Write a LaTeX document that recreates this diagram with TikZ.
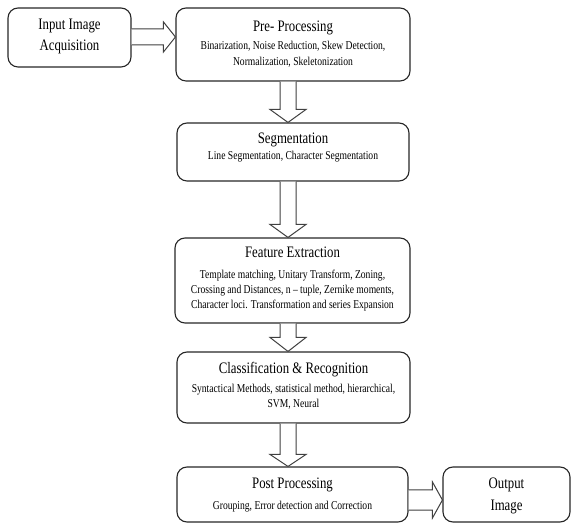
\documentclass[tikz,border=0pt]{standalone}
\usepackage{fontspec}
\setmainfont{Liberation Serif}[FakeStretch=0.8]
\usetikzlibrary{calc}
\tikzset{
  box/.style={draw=black!85, line width=1.1pt, rounded corners=10pt, inner sep=0pt},
  ttl/.style={font=\fontsize{16}{18}\selectfont, inner sep=0pt},
  bdy/.style={font=\fontsize{12}{15}\selectfont, inner sep=0pt, anchor=base},
  blk/.style={draw=black!75, line width=1pt, fill=white, line join=miter},
}
\begin{document}
\begin{tikzpicture}[x=1pt,y=1pt]
\useasboundingbox (0,0) rectangle (572,524);
% boxes (canvas y = 524 - pixel y)
\node[box, minimum width=123pt, minimum height=59pt] (inp) at (69.5,486.5) {};
\node[box, minimum width=234pt, minimum height=73pt] (pre) at (293,479.5) {};
\node[box, minimum width=232pt, minimum height=58pt] (seg) at (293,372) {};
\node[box, minimum width=235pt, minimum height=85pt] (fe) at (292.5,243.5) {};
\node[box, minimum width=233pt, minimum height=71pt] (cl) at (293.5,136.5) {};
\node[box, minimum width=231pt, minimum height=55pt] (post) at (292.5,29.5) {};
\node[box, minimum width=127pt, minimum height=55pt] (out) at (506.5,29.5) {};
% texts
\node[ttl] (inpt) at (69.5,498) {Input Image};
\node[ttl] (inpb) at (69.5,477) {Acquisition};
\node[ttl] (pret) at (293,496) {Pre- Processing};
\node[bdy] (preb1) at (293,474) {Binarization, Noise Reduction, Skew Detection,};
\node[bdy] (preb2) at (293,458) {Normalization, Skeletonization};
\node[ttl] (segt) at (293,384) {Segmentation};
\node[bdy] (segb) at (293,364) {Line Segmentation, Character Segmentation};
\node[ttl] (fet) at (292.5,272) {Feature Extraction};
\node[bdy] (feb1) at (292.5,245) {Template matching, Unitary Transform, Zoning,};
\node[bdy] (feb2) at (292.5,230) {Crossing and Distances, n -- tuple, Zernike moments,};
\node[bdy] (feb3) at (292.5,215) {Character loci. Transformation and series Expansion};
\node[ttl] (clt) at (293.5,154) {Classification \& Recognition};
\node[bdy] (clb1) at (293.5,131) {Syntactical Methods, statistical method, hierarchical,};
\node[bdy] (clb2) at (293.5,116) {SVM, Neural};
\node[ttl] (postt) at (292.5,39) {Post Processing};
\node[bdy] (postb) at (292.5,15) {Grouping, Error detection and Correction};
\node[ttl] (outt) at (506.5,39) {Output};
\node[ttl] (outb) at (506.5,17) {Image};
% block arrows
\draw[blk] let \p1=(inp.east), \p2=(pre.west) in
  (\x1,495pt) -- (\x2-12pt,495pt) -- (\x2-12pt,502pt) -- (\x2,487pt)
  -- (\x2-12pt,472pt) -- (\x2-12pt,479pt) -- (\x1,479pt);
\draw[blk] let \p1=(pre.south), \p2=(seg.north) in
  (280pt,\y1) -- (280pt,\y2+13pt) -- (270pt,\y2+13pt) -- (288pt,\y2)
  -- (306pt,\y2+13pt) -- (296pt,\y2+13pt) -- (296pt,\y1);
\draw[blk] let \p1=(seg.south), \p2=(fe.north) in
  (280pt,\y1) -- (280pt,\y2+13pt) -- (270pt,\y2+13pt) -- (288pt,\y2)
  -- (306pt,\y2+13pt) -- (296pt,\y2+13pt) -- (296pt,\y1);
\draw[blk] let \p1=(fe.south), \p2=(cl.north) in
  (280pt,\y1) -- (280pt,\y2+14pt) -- (270pt,\y2+14pt) -- (288pt,\y2)
  -- (306pt,\y2+14pt) -- (296pt,\y2+14pt) -- (296pt,\y1);
\draw[blk] let \p1=(cl.south), \p2=(post.north) in
  (280pt,\y1) -- (280pt,\y2+12pt) -- (270pt,\y2+12pt) -- (288pt,\y2)
  -- (306pt,\y2+12pt) -- (296pt,\y2+12pt) -- (296pt,\y1);
\draw[blk] let \p1=(post.east), \p2=(out.west) in
  (\x1,34pt) -- (\x2-10pt,34pt) -- (\x2-10pt,42pt) -- (\x2,24pt)
  -- (\x2-10pt,6pt) -- (\x2-10pt,14pt) -- (\x1,14pt);
\end{tikzpicture}
\end{document}
